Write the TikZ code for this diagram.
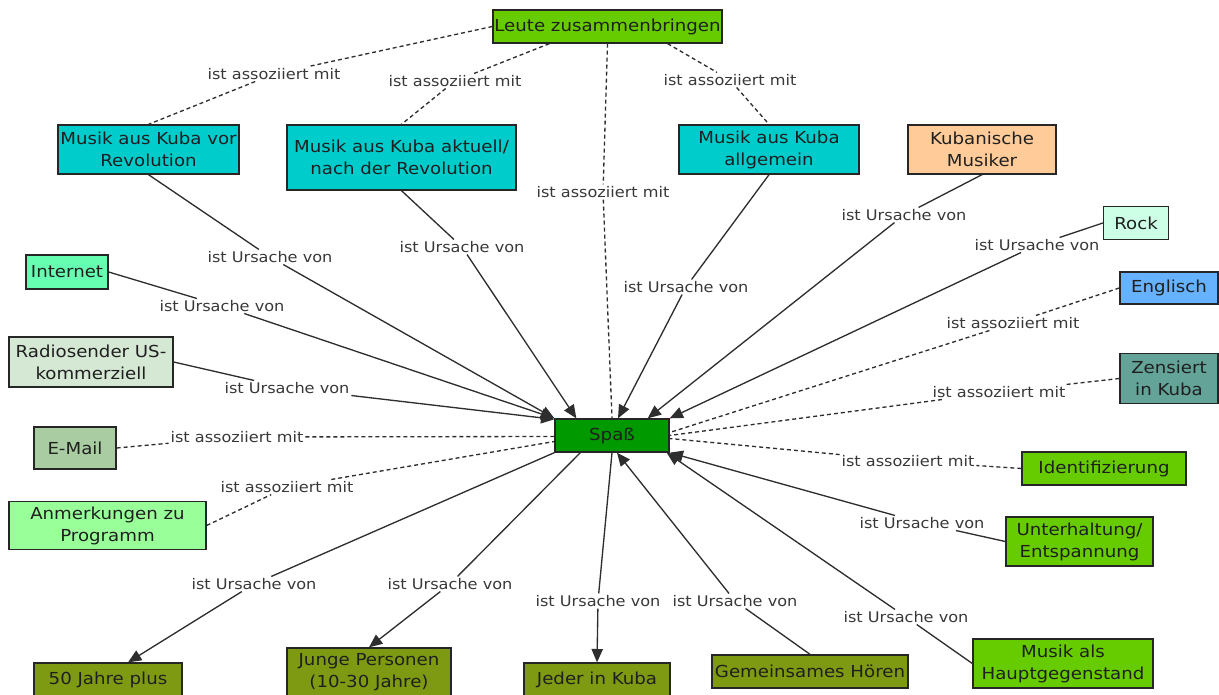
\documentclass[tikz,border=0pt]{standalone}
\usepackage{fontspec}
\setmainfont{DejaVu Sans}[FakeStretch=1.1]
\usetikzlibrary{arrows.meta,calc}

\definecolor{cLime}{HTML}{66CC00}
\definecolor{cCyan}{HTML}{00CCCC}
\definecolor{cPeach}{HTML}{FFCC99}
\definecolor{cMint}{HTML}{CCFFE6}
\definecolor{cSky}{HTML}{66B2FF}
\definecolor{cTeal}{HTML}{63A398}
\definecolor{cOlive}{HTML}{7E9A12}
\definecolor{cPale}{HTML}{99FF99}
\definecolor{cSage}{HTML}{AACCA2}
\definecolor{cMist}{HTML}{D5E8D4}
\definecolor{cAqua}{HTML}{66FFB2}
\definecolor{cGreen}{HTML}{009900}

\begin{document}
\begin{tikzpicture}[x=0.75pt,y=-0.75pt,
  concept/.style={draw=black!85, line width=1pt, align=center, inner sep=0pt,
    font=\fontsize{12.4}{16.5}\selectfont, text=black!88},
  sz/.style 2 args={minimum width=#1*0.75pt, minimum height=#2*0.75pt},
  lbl/.style={inner sep=1.2pt, font=\fontsize{11}{12.5}\selectfont, text=black!78},
  link/.style={draw=black!82, line width=1pt},
  cause/.style={link, -{Triangle[length=10pt,width=8.5pt]}},
  assoc/.style={link, dash pattern=on 3pt off 2.25pt}
]
\useasboundingbox (0,0) rectangle (1219,695);

% concepts
\node[concept, fill=cLime,  sz={229}{33}] (leute)     at (607.5,26.5) {Leute zusammenbringen};
\node[concept, fill=cCyan,  sz={181}{49}] (vorrev)    at (148.5,149.5){Musik aus Kuba vor\\Revolution};
\node[concept, fill=cCyan,  sz={229}{65}] (aktuell)   at (401.5,157.5){Musik aus Kuba aktuell/\\nach der Revolution};
\node[concept, fill=cCyan,  sz={180}{49}] (allgemein) at (769,149.5)  {Musik aus Kuba\\allgemein};
\node[concept, fill=cPeach, sz={148}{49}] (musiker)   at (982,149.5)  {Kubanische\\Musiker};
\node[concept, fill=cMint,  sz={65}{33}]  (rock)      at (1136,223)   {Rock};
\node[concept, fill=cSky,   sz={98}{32}]  (englisch)  at (1169,288)   {Englisch};
\node[concept, fill=cTeal,  sz={98}{50}]  (zensiert)  at (1169,378.5) {Zensiert\\in Kuba};
\node[concept, fill=cLime,  sz={164}{33}] (ident)     at (1104,468.5) {Identifizierung};
\node[concept, fill=cLime,  sz={147}{49}] (unterh)    at (1079.5,541.5){Unterhaltung/\\Entspannung};
\node[concept, fill=cLime,  sz={180}{49}] (haupt)     at (1063,663.5) {Musik als\\Hauptgegenstand};
\node[concept, fill=cOlive, sz={196}{33}] (gemein)    at (810,671.5)  {Gemeinsames Hören};
\node[concept, fill=cOlive, sz={146}{33}] (jeder)     at (597,679.5)  {Jeder in Kuba};
\node[concept, fill=cOlive, sz={164}{49}] (junge)     at (369,672.5)  {Junge Personen\\(10-30 Jahre)};
\node[concept, fill=cOlive, sz={148}{33}] (fuenfzig)  at (108,679.5)  {50 Jahre plus};
\node[concept, fill=cPale,  sz={197}{48}] (anmerk)    at (107.5,525.5){Anmerkungen zu\\Programm};
\node[concept, fill=cSage,  sz={82}{42}]  (email)     at (75,448)     {E-Mail};
\node[concept, fill=cMist,  sz={164}{50}] (radio)     at (91,362)     {Radiosender US-\\kommerziell};
\node[concept, fill=cAqua,  sz={82}{34}]  (internet)  at (67,272)     {Internet};
\node[concept, fill=cGreen, sz={114}{33}] (spass)     at (612,435.5)  {Spaß};

% link phrases
\node[lbl] (l1)  at (274,74)   {ist assoziiert mit};
\node[lbl] (l2)  at (455,81)   {ist assoziiert mit};
\node[lbl] (l3)  at (730,80)   {ist assoziiert mit};
\node[lbl] (l4)  at (603,192)  {ist assoziiert mit};
\node[lbl] (l5)  at (270,257)  {ist Ursache von};
\node[lbl] (l6)  at (462,247)  {ist Ursache von};
\node[lbl] (l7)  at (686,287)  {ist Ursache von};
\node[lbl] (l8)  at (904,215)  {ist Ursache von};
\node[lbl] (l9)  at (1037,245) {ist Ursache von};
\node[lbl] (l10) at (1013,323) {ist assoziiert mit};
\node[lbl] (l11) at (999,392)  {ist assoziiert mit};
\node[lbl] (l12) at (908,461)  {ist assoziiert mit};
\node[lbl] (l13) at (922,523)  {ist Ursache von};
\node[lbl] (l14) at (906,617)  {ist Ursache von};
\node[lbl] (l15) at (735,601)  {ist Ursache von};
\node[lbl] (l16) at (598,601)  {ist Ursache von};
\node[lbl] (l17) at (450,584)  {ist Ursache von};
\node[lbl] (l18) at (254,584)  {ist Ursache von};
\node[lbl] (l19) at (222,306)  {ist Ursache von};
\node[lbl] (l20) at (287,388)  {ist Ursache von};
\node[lbl] (l21) at (237,437)  {ist assoziiert mit};
\node[lbl] (l22) at (287,487)  {ist assoziiert mit};

% associations of "Leute zusammenbringen"
\draw[assoc] (leute.west) -- (l1);
\draw[assoc] (l1) -- (vorrev.north);
\draw[assoc] ($(leute.south west)+(57,0)$) -- (l2);
\draw[assoc] (l2) -- (aktuell.north);
\draw[assoc] ($(leute.south east)+(-55,0)$) -- (l3);
\draw[assoc] (l3) -- (allgemein.north);
\draw[assoc] (leute.south) -- (l4);
\draw[assoc] (l4) -- (spass.north);

% causes pointing into "Spaß"
\draw[link]  (vorrev.south) -- (l5);
\draw[cause] (l5) -- (spass.north west);
\draw[link]  (aktuell.south) -- (l6);
\draw[cause] (l6) -- ($(spass.north west)+(22,0)$);
\draw[link]  (allgemein.south) -- (l7);
\draw[cause] (l7) -- ($(spass.north)+(6,0)$);
\draw[link]  (musiker.south) -- (l8);
\draw[cause] (l8) -- ($(spass.north east)+(-22,0)$);
\draw[link]  (rock.west) -- (l9);
\draw[cause] (l9) -- (spass.north east);
\draw[link]  (internet.east) -- (l19);
\draw[cause] (l19) -- (spass.north west);
\draw[link]  (radio.east) -- (l20);
\draw[cause] (l20) -- ($(spass.north west)+(0,1)$);
\draw[link]  (unterh.west) -- (l13);
\draw[cause] (l13) -- (spass.south east);
\draw[link]  (haupt.west) -- (l14);
\draw[cause] (l14) -- ($(spass.south east)+(-3,0)$);
\draw[link]  (gemein.north) -- (l15);
\draw[cause] (l15) -- ($(spass.south)+(5,0)$);

% associations on the sides of "Spaß"
\draw[assoc] (englisch.west) -- (l10);
\draw[assoc] (l10) -- ($(spass.east)+(0,-3)$);
\draw[assoc] (zensiert.west) -- (l11);
\draw[assoc] (l11) -- (spass.east);
\draw[assoc] (ident.west) -- (l12);
\draw[assoc] (l12) -- ($(spass.east)+(0,3)$);
\draw[assoc] (email.east) -- (l21);
\draw[assoc] (l21) -- ($(spass.west)+(0,1)$);
\draw[assoc] (anmerk.east) -- (l22);
\draw[assoc] (l22) -- ($(spass.west)+(0,6)$);

% effects of "Spaß"
\draw[link]  (spass.south) -- (l16);
\draw[cause] (l16) -- (jeder.north);
\draw[link]  ($(spass.south west)+(26,0)$) -- (l17);
\draw[cause] (l17) -- (junge.north);
\draw[link]  (spass.south west) -- (l18);
\draw[cause] (l18) -- ($(fuenfzig.north)+(20,0)$);
\end{tikzpicture}
\end{document}
